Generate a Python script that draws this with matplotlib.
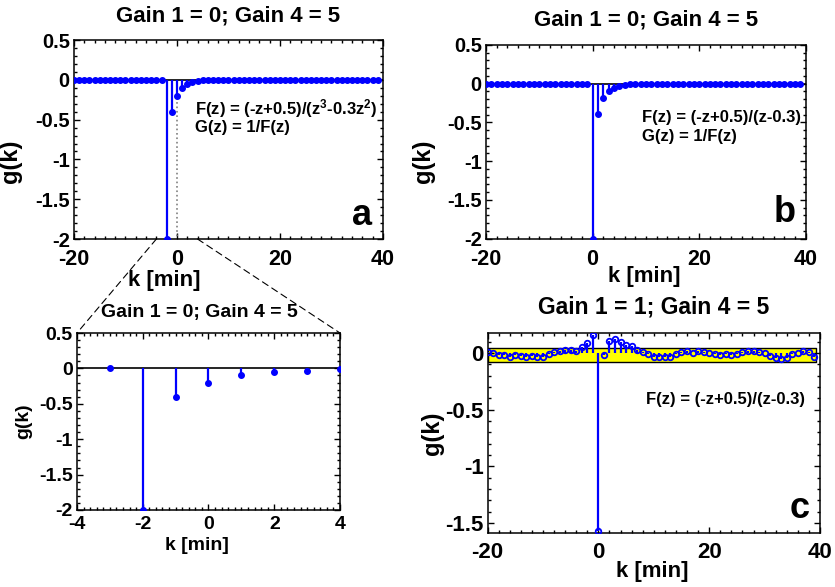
import matplotlib
matplotlib.use("Agg")
import matplotlib.pyplot as plt
import numpy as np
from matplotlib.patches import ConnectionPatch
from matplotlib.ticker import MultipleLocator

plt.rcParams['font.family'] = ['Liberation Sans', 'DejaVu Sans']
plt.rcParams['font.weight'] = 'bold'
plt.rcParams['axes.unicode_minus'] = False
plt.rcParams['mathtext.fontset'] = 'custom'
plt.rcParams['mathtext.bf'] = 'Liberation Sans:bold'
plt.rcParams['mathtext.rm'] = 'Liberation Sans:bold'
plt.rcParams['mathtext.default'] = 'bf'

# lag index
k = np.arange(-20, 40)

# impulse response, F(z) = (-z+0.5)/(z^3-0.3z^2)
g_a = [0.0] * 18 + [-2.0, -0.4, -0.2, -0.1, -0.05, -0.03, -0.015, -0.007] + [0.0] * 34
# impulse response, F(z) = (-z+0.5)/(z-0.3)
g_b = [0.0] * 20 + [-2.0, -0.39, -0.19, -0.1, -0.05, -0.025, -0.012, -0.006] + [0.0] * 32
# estimated impulse response with Gain 1 = 1
g_c = [0.01, 0.0, -0.015, -0.02, -0.03, -0.015, -0.025, -0.03, -0.025, -0.035,
       -0.035, -0.01, 0.01, 0.02, 0.025, 0.025, 0.02, 0.055, 0.09, 0.16,
       -1.57, -0.02, 0.11, 0.125, 0.1, 0.075, 0.065, 0.025, 0.01, -0.005,
       -0.035, -0.035, -0.035, -0.03, -0.01, 0.01, 0.02, 0.005, 0.015, 0.01,
       0.0, -0.01, -0.015, -0.01, -0.02, -0.01, 0.01, 0.02, 0.02, 0.01,
       0.0, -0.025, -0.045, -0.05, -0.04, -0.01, 0.005, 0.015, 0.01, -0.035]
band_lo, band_hi = -0.075, 0.045
band_k = [-20, 39.2]

title_ab = 'Gain 1 = 0; Gain 4 = 5'
title_c = 'Gain 1 = 1; Gain 4 = 5'
txt_a = 'F(z) = (-z+0.5)/(z$^3$-0.3z$^2$)'
txt_b = 'F(z) = (-z+0.5)/(z-0.3)'
txt_g = 'G(z) = 1/F(z)'

blue = '#0000ff'

fig = plt.figure(figsize=(8.35, 5.87), dpi=100)
ax_a = fig.add_axes([0.0886, 0.5928, 0.370, 0.339])
ax_b = fig.add_axes([0.582, 0.5934, 0.383, 0.330])
ax_z = fig.add_axes([0.0922, 0.1312, 0.315, 0.3015])
ax_c = fig.add_axes([0.584, 0.0915, 0.398, 0.3417])


def style(ax, xt, yt, xminor, xfs=15.5, yfs=14.5, xpad=7.5):
    ax.tick_params(which='both', direction='in', top=True, right=True, width=1)
    ax.tick_params(which='major', length=4)
    ax.tick_params(which='minor', length=2)
    ax.tick_params(axis='x', labelsize=xfs, pad=xpad)
    ax.tick_params(axis='y', labelsize=yfs, pad=3)
    ax.set_xticks(xt)
    ax.set_yticks(yt)
    ax.set_xticklabels([f'{v:g}' for v in xt])
    ax.set_yticklabels([f'{v:g}' for v in yt])
    ax.xaxis.set_minor_locator(MultipleLocator(xminor))
    ax.yaxis.set_minor_locator(MultipleLocator(0.1))
    for s in ax.spines.values():
        s.set_linewidth(1.1)


def stems(ax, x, y, filled=True):
    ax.vlines(x, 0, y, color=blue, lw=1.6, zorder=3)
    if filled:
        ax.plot(x, y, 'o', color=blue, ms=4, zorder=4)
    else:
        ax.plot(x, y, 'o', color=blue, mfc='none', mew=1.3, ms=4, zorder=4)


# panel a
ax_a.axhline(0, color='black', lw=1.2, zorder=2)
ax_a.plot([0, 0], [0, -2], ':', color='gray', lw=1.2, zorder=2)
stems(ax_a, k, g_a)
ax_a.set_xlim(-20, 40)
ax_a.set_ylim(-2, 0.5)
style(ax_a, [-20, 0, 20, 40], [-2, -1.5, -1, -0.5, 0, 0.5], 2)
ax_a.set_title(title_ab, fontsize=16, fontweight='bold', y=1.122, va='center', pad=0)
ax_a.set_xlabel('k [min]', fontsize=16, fontweight='bold')
ax_a.xaxis.set_label_coords(0.291, -0.155)
ax_a.set_ylabel('g(k)', fontsize=17, fontweight='bold')
ax_a.yaxis.set_label_coords(-0.169, 0.392)
ax_a.text(0.392, 0.658, txt_a, transform=ax_a.transAxes, fontsize=12,
          fontweight='bold', va='center', ha='left')
ax_a.text(0.392, 0.558, txt_g, transform=ax_a.transAxes, fontsize=12,
          fontweight='bold', va='center', ha='left')
ax_a.text(0.932, 0.12, 'a', transform=ax_a.transAxes, fontsize=26,
          fontweight='bold', va='center', ha='center')

# panel b
ax_b.axhline(0, color='black', lw=1.2, zorder=2)
stems(ax_b, k, g_b)
ax_b.set_xlim(-20, 40)
ax_b.set_ylim(-2, 0.5)
style(ax_b, [-20, 0, 20, 40], [-2, -1.5, -1, -0.5, 0, 0.5], 2)
ax_b.set_title(title_ab, fontsize=16, fontweight='bold', y=1.129, va='center', pad=0)
ax_b.set_xlabel('k [min]', fontsize=16, fontweight='bold')
ax_b.xaxis.set_label_coords(0.494, -0.14)
ax_b.set_ylabel('g(k)', fontsize=17, fontweight='bold')
ax_b.yaxis.set_label_coords(-0.16, 0.40)
ax_b.text(0.487, 0.623, txt_b, transform=ax_b.transAxes, fontsize=12,
          fontweight='bold', va='center', ha='left')
ax_b.text(0.487, 0.525, txt_g, transform=ax_b.transAxes, fontsize=12,
          fontweight='bold', va='center', ha='left')
ax_b.text(0.934, 0.133, 'b', transform=ax_b.transAxes, fontsize=26,
          fontweight='bold', va='center', ha='center')

# zoomed view of panel a
sel = (k >= -3) & (k <= 4)
ax_z.axhline(0, color='black', lw=1.2, zorder=2)
stems(ax_z, k[sel], np.array(g_a)[sel])
ax_z.set_xlim(-4, 4)
ax_z.set_ylim(-2, 0.5)
style(ax_z, [-4, -2, 0, 2, 4], [-2, -1.5, -1, -0.5, 0, 0.5], 0.2, xfs=14, yfs=14, xpad=4)
ax_z.set_title(title_ab, fontsize=14, fontweight='bold', y=1.115, va='center', pad=0)
ax_z.title.set_x(0.464)
ax_z.set_xlabel('k [min]', fontsize=14, fontweight='bold')
ax_z.xaxis.set_label_coords(0.456, -0.15)
ax_z.set_ylabel('g(k)', fontsize=14, fontweight='bold')
ax_z.yaxis.set_label_coords(-0.17, 0.5)

for xv in (-4, 4):
    con = ConnectionPatch(xyA=(xv, -2), coordsA=ax_a.transData,
                          xyB=(xv, 0.5), coordsB=ax_z.transData,
                          color='black', lw=0.8, ls=(0, (6, 4)))
    fig.add_artist(con)

# panel c
ax_c.fill_between(band_k, band_lo, band_hi, facecolor='yellow',
                  edgecolor='black', lw=1.0, zorder=1)
stems(ax_c, k, g_c, filled=False)
ax_c.set_xlim(-20, 40)
ax_c.set_ylim(-1.59, 0.18)
style(ax_c, [-20, 0, 20, 40], [-1.5, -1, -0.5, 0], 2, xfs=16, yfs=16, xpad=6)
ax_c.set_title(title_c, fontsize=16.5, fontweight='bold', y=1.13, va='center', pad=0)
ax_c.set_xlabel('k [min]', fontsize=16, fontweight='bold')
ax_c.xaxis.set_label_coords(0.496, -0.138)
ax_c.set_ylabel('g(k)', fontsize=17, fontweight='bold')
ax_c.yaxis.set_label_coords(-0.13, 0.5)
ax_c.text(0.476, 0.665, txt_b, transform=ax_c.transAxes, fontsize=12,
          fontweight='bold', va='center', ha='left')
ax_c.text(0.94, 0.126, 'c', transform=ax_c.transAxes, fontsize=26,
          fontweight='bold', va='center', ha='center')

fig.savefig('out.png', dpi=100)
